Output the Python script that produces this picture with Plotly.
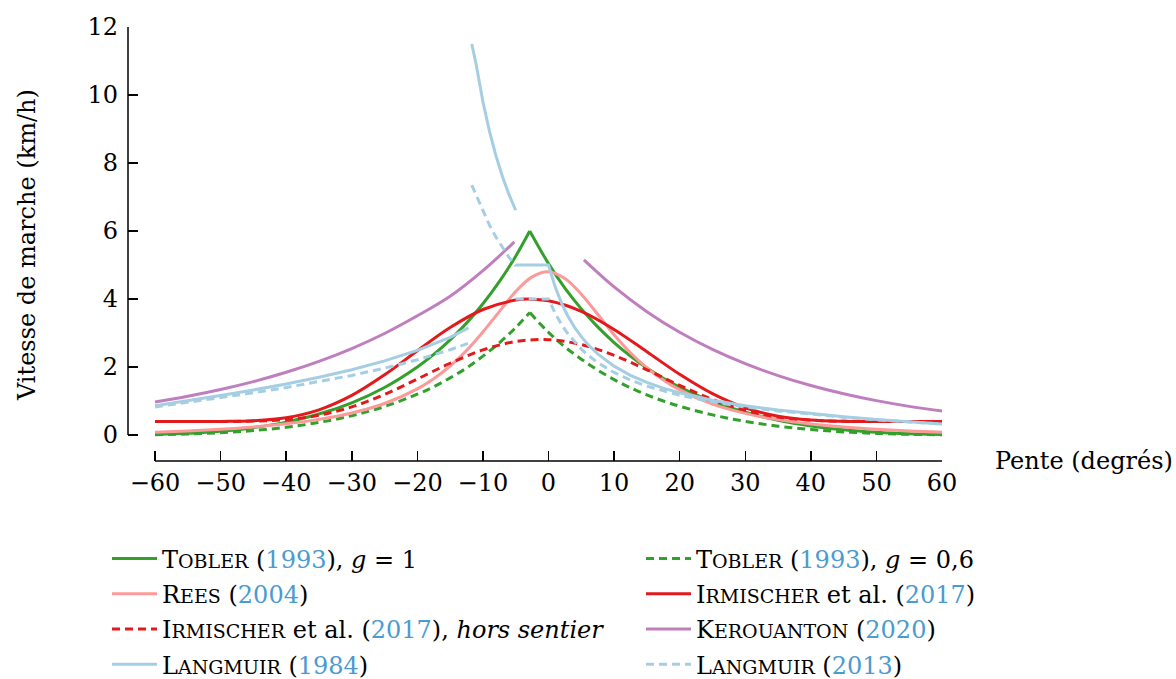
import plotly.graph_objects as go

# ---------------- data ----------------
x_ticks = [-60, -50, -40, -30, -20, -10, 0, 10, 20, 30, 40, 50, 60]
x_ticklabels = ["\u221260", "\u221250", "\u221240", "\u221230", "\u221220", "\u221210",
                "0", "10", "20", "30", "40", "50", "60"]
y_ticks = [0, 2, 4, 6, 8, 10, 12]

tobler_left_x = [-60, -55, -50, -45, -40, -35, -30, -25, -20, -17.5, -15, -12.5, -10, -7.5, -5, -2.86]
tobler_left_y = [0.017, 0.048, 0.110, 0.216, 0.379, 0.616, 0.947, 1.397, 2.00, 2.37, 2.80, 3.29, 3.86, 4.51, 5.26, 6.00]
tobler_right_x = [-2.86, 0, 2.5, 5, 7.5, 10, 12.5, 15, 17.5, 20, 25, 30, 35, 40, 45, 50, 55, 60]
tobler_right_y = [6.00, 5.04, 4.32, 3.71, 3.18, 2.72, 2.32, 1.97, 1.67, 1.41, 0.985, 0.668, 0.434, 0.267, 0.152, 0.078, 0.034, 0.012]

tobler06_left_y = [0.010, 0.029, 0.066, 0.130, 0.227, 0.370, 0.568, 0.838, 1.20, 1.42, 1.68, 1.97, 2.32, 2.71, 3.16, 3.60]
tobler06_right_y = [3.60, 3.02, 2.59, 2.23, 1.91, 1.63, 1.39, 1.18, 1.00, 0.846, 0.591, 0.401, 0.260, 0.160, 0.091, 0.047, 0.020, 0.007]

rees_x = [-60, -55, -50, -45, -40, -35, -30, -25, -20, -17.5, -15, -12.5, -10, -7.5, -5, -2.5, 0,
          2.5, 5, 7.5, 10, 12.5, 15, 17.5, 20, 25, 30, 35, 40, 45, 50, 55, 60]
rees_y = [0.081, 0.118, 0.168, 0.236, 0.329, 0.459, 0.647, 0.927, 1.358, 1.657, 2.029, 2.487, 3.03, 3.63, 4.22, 4.65, 4.80,
          4.60, 4.14, 3.55, 2.95, 2.42, 1.976, 1.615, 1.325, 0.907, 0.635, 0.452, 0.324, 0.233, 0.167, 0.117, 0.081]

irm_x = [-60, -50, -45, -40, -35, -30, -25, -20, -15, -10, -5, -2.86, 0, 5, 10, 15, 20, 25, 30, 35, 40, 45, 50, 60]
irm_y = [0.396, 0.399, 0.420, 0.509, 0.740, 1.164, 1.770, 2.478, 3.161, 3.691, 3.968, 3.996, 3.946, 3.637, 3.105,
         2.449, 1.785, 1.215, 0.800, 0.554, 0.441, 0.404, 0.397, 0.396]

irm_off_x = [-60, -50, -45, -40, -35, -30, -25, -20, -15, -10, -5, 0, 5, 10, 15, 20, 25, 30, 35, 40, 45, 50, 60]
irm_off_y = [0.396, 0.397, 0.408, 0.454, 0.581, 0.825, 1.194, 1.646, 2.110, 2.502, 2.748, 2.803, 2.658, 2.343,
             1.918, 1.459, 1.044, 0.728, 0.531, 0.436, 0.403, 0.397, 0.396]

ker_x = [-60, -55, -50, -45, -40, -35, -30, -25, -20, -15, -10, -5.2, None,
         5.4, 10, 15, 20, 25, 30, 35, 40, 45, 50, 55, 60]
ker_y = [0.97, 1.139, 1.337, 1.570, 1.844, 2.165, 2.542, 2.985, 3.505, 4.08, 4.834, 5.68, None,
         5.15, 4.354, 3.628, 3.022, 2.518, 2.098, 1.748, 1.457, 1.214, 1.011, 0.842, 0.702]

lang_x = [-60, -55, -50, -45, -40, -35, -30, -25, -20, -15, -12.2, None,
          -11.7, -11, -10, -9, -8, -7, -6, -5, None,
          -5, 0, 1, 2, 3, 4, 5, 6, 7.5, 10, 12.5, 15, 17.5, 20, 25, 30, 35, 40, 45, 50, 55, 60]
lang84_y = [0.86, 1.007, 1.16, 1.324, 1.50, 1.70, 1.92, 2.18, 2.49, 2.87, 3.15, None,
            11.5, 10.87, 9.80, 8.93, 8.20, 7.59, 7.06, 6.61, None,
            5.0, 5.0, 4.365, 3.873, 3.480, 3.159, 2.892, 2.666, 2.384, 2.025, 1.756, 1.547, 1.378, 1.240,
            1.023, 0.860, 0.732, 0.626, 0.536, 0.457, 0.388, 0.324]
lang13_y = [0.825, 0.958, 1.096, 1.241, 1.396, 1.565, 1.752, 1.965, 2.212, 2.507, 2.70, None,
            7.35, 7.04, 6.577, 6.172, 5.816, 5.501, 5.219, 4.965, None,
            4.0, 4.0, 3.583, 3.245, 2.964, 2.728, 2.526, 2.352, 2.130, 1.839, 1.614, 1.436, 1.290, 1.167,
            0.974, 0.825, 0.706, 0.607, 0.522, 0.447, 0.380, 0.319]

# ---------------- style ----------------
GREEN = "#33a02c"
PINK = "#fb9a99"
RED = "#e31a1c"
PURPLE = "#bf7fbf"
LBLUE = "#a6cee3"
CITE = "#4a9bd1"
FONT = "DejaVu Serif"
DASH = "8px,5px"
LW = 3


def sc(first, rest):
    return f'{first}<span style="font-size:19px">{rest}</span>'


def yr(y):
    return f'<span style="color:{CITE}">{y}</span>'


names = [
    f"{sc('T', 'OBLER')} ({yr(1993)}), <i>g</i> = 1",
    f"{sc('T', 'OBLER')} ({yr(1993)}), <i>g</i> = 0,6",
    f"{sc('R', 'EES')} ({yr(2004)})",
    f"{sc('I', 'RMISCHER')} et al. ({yr(2017)})",
    f"{sc('I', 'RMISCHER')} et al. ({yr(2017)}), <i>hors sentier</i>",
    f"{sc('K', 'EROUANTON')} ({yr(2020)})",
    f"{sc('L', 'ANGMUIR')} ({yr(1984)})",
    f"{sc('L', 'ANGMUIR')} ({yr(2013)})",
]

fig = go.Figure()


def add(x, y, name, color, group, legend, dash="solid", shape="spline", showlegend=True):
    fig.add_trace(go.Scatter(
        x=x, y=y, mode="lines", name=name, showlegend=showlegend,
        legendgroup=group, legend=legend, connectgaps=False,
        line=dict(color=color, width=LW, dash=dash, shape=shape),
        hoverinfo="skip"))


add(tobler_left_x, tobler_left_y, names[0], GREEN, "t1", "legend")
add(tobler_right_x, tobler_right_y, names[0], GREEN, "t1", "legend", showlegend=False)
add(tobler_left_x, tobler06_left_y, names[1], GREEN, "t2", "legend2", dash=DASH)
add(tobler_right_x, tobler06_right_y, names[1], GREEN, "t2", "legend2", dash=DASH, showlegend=False)
add(rees_x, rees_y, names[2], PINK, "rees", "legend")
add(irm_x, irm_y, names[3], RED, "irm", "legend2")
add(irm_off_x, irm_off_y, names[4], RED, "irmoff", "legend", dash=DASH)
add(ker_x, ker_y, names[5], PURPLE, "ker", "legend2")
add(lang_x, lang84_y, names[6], LBLUE, "l84", "legend", shape="linear")
add(lang_x, lang13_y, names[7], LBLUE, "l13", "legend2", dash=DASH, shape="linear")

AX = dict(color="black", width=1.5)
fig.add_shape(type="line", xref="paper", yref="y", x0=0, x1=0, y0=y_ticks[0], y1=y_ticks[-1], line=AX)
fig.add_shape(type="line", xref="x", yref="paper", x0=x_ticks[0], x1=x_ticks[-1], y0=0, y1=0, line=AX)

fig.add_annotation(text="Pente (degrés)", xref="paper", yref="paper", x=1.0627, y=0.0,
                   xanchor="left", yanchor="middle", showarrow=False,
                   font=dict(family=FONT, size=24, color="black"))
fig.add_annotation(text="Vitesse de marche (km/h)", xref="paper", yref="paper", x=-0.124, y=0.4977,
                   textangle=-90, xanchor="center", yanchor="middle", showarrow=False,
                   font=dict(family=FONT, size=24, color="black"))

LEG = dict(orientation="v", xanchor="left", yanchor="top",
           font=dict(family=FONT, size=24, color="black"),
           bgcolor="rgba(0,0,0,0)", traceorder="grouped", tracegroupgap=1,
           itemwidth=45)

fig.update_layout(
    width=1176, height=679,
    margin=dict(l=128, r=234, t=27, b=218, autoexpand=False),
    paper_bgcolor="white", plot_bgcolor="white",
    font=dict(family=FONT, size=24, color="black"),
    xaxis=dict(range=[-64.12, 60], tickvals=x_ticks, ticktext=x_ticklabels,
               ticks="inside", ticklen=10, tickwidth=1.5, tickcolor="black",
               showgrid=False, zeroline=False, showline=False, ticklabelstandoff=5,
               tickfont=dict(family=FONT, size=24, color="black")),
    yaxis=dict(range=[-0.765, 12], tickvals=y_ticks,
               ticks="inside", ticklen=10, tickwidth=1.5, tickcolor="black",
               showgrid=False, zeroline=False, showline=False, ticklabelstandoff=9,
               tickfont=dict(family=FONT, size=24, color="black")),
    legend=dict(LEG, x=-0.0258, y=-0.174),
    legend2=dict(LEG, x=0.6302, y=-0.174),
    showlegend=True,
)

# remove the default 8px page margin so the figure fills the 1176x679 window exactly
fig.write_html("out.html",
               config={"displayModeBar": False, "staticPlot": True},
               post_script="document.body.style.margin='0';document.body.style.overflow='hidden';")
